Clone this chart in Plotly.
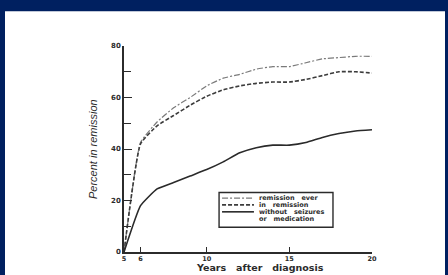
import plotly.graph_objects as go

years = [5, 6, 7, 8, 9, 10, 11, 12, 13, 14, 15, 16, 17, 18, 19, 20]
remission_ever = [0, 42.5, 50.5, 56, 60, 64.5, 67.5, 69, 71, 72, 72, 73.5, 75, 75.5, 76, 76]
in_remission = [0, 42, 49, 53, 57, 60.5, 63, 64.5, 65.5, 66, 66, 67, 68.5, 70, 70, 69.5]
without_seizures = [0, 18, 24.5, 27, 29.5, 32, 35, 38.5, 40.5, 41.5, 41.5, 42.5, 44.5, 46, 47, 47.5]

x_ticks = [5, 6, 10, 15, 20]
y_ticks = [0, 20, 40, 60, 80]
y_minor = [10, 30, 50, 70]

legend_labels = ["remission   ever", "in   remission", "without   seizures", "or   medication"]

NAVY = "#002060"
AX = "#2b2b2b"

fig = go.Figure()
fig.add_trace(go.Scatter(x=years, y=remission_ever, mode="lines", line=dict(color="#7a7a7a", width=1.2, dash="6px,2px,2px,2px", shape="spline", smoothing=0.4), showlegend=False, hoverinfo="skip"))
fig.add_trace(go.Scatter(x=years, y=in_remission, mode="lines", line=dict(color="#3c3c3c", width=1.6, dash="4px,2px", shape="spline", smoothing=0.4), showlegend=False, hoverinfo="skip"))
fig.add_trace(go.Scatter(x=years, y=without_seizures, mode="lines", line=dict(color="#2a2a2a", width=1.6, shape="spline", smoothing=0.4), showlegend=False, hoverinfo="skip"))

shapes = []
# white page inside navy frame
shapes.append(dict(type="rect", xref="paper", yref="paper", x0=(5 - 124) / 248, x1=(445 - 124) / 248,
                   y0=-0.3, y1=(254 - 11) / 208, fillcolor="white", line=dict(width=0), layer="below"))
# legend box (data coordinates)
shapes.append(dict(type="rect", xref="x", yref="y", x0=10.75, x1=17.64, y0=9.6, y1=23.1,
                   line=dict(color=AX, width=1.4), fillcolor="rgba(0,0,0,0)"))
sample_styles = [("#7a7a7a", "6px,2px,2px,2px", 1.2), ("#3c3c3c", "4px,2px", 1.6), ("#2a2a2a", "solid", 1.6)]
rows_y = [20.9, 18.3, 15.6, 12.9]
for (c, d, w), yy in zip(sample_styles, rows_y[:3]):
    shapes.append(dict(type="line", xref="x", yref="y", x0=10.93, x1=12.86, y0=yy, y1=yy,
                       line=dict(color=c, width=w, dash=d)))

annotations = []
for lab, yy in zip(legend_labels, rows_y):
    annotations.append(dict(x=13.05, y=yy, xref="x", yref="y", text=lab, showarrow=False,
                            xanchor="left", yanchor="middle",
                            font=dict(family="DejaVu Sans", size=6.5, color=AX, weight="bold")))
annotations.append(dict(x=(93 - 124) / 248, y=0.5, xref="paper", yref="paper", text="Percent in remission",
                        textangle=-90, showarrow=False, xanchor="center", yanchor="middle",
                        font=dict(family="Liberation Sans", size=11, color=AX, style="italic")))
annotations.append(dict(x=(260 - 124) / 248, y=(254 - 270) / 208, xref="paper", yref="paper",
                        text="Years   after   diagnosis", showarrow=False, xanchor="center", yanchor="middle",
                        borderpad=0,
                        font=dict(family="DejaVu Sans", size=9.5, color=AX, weight="bold")))

fig.update_layout(
    width=448, height=275,
    margin=dict(l=124, r=76, t=46, b=21),
    paper_bgcolor=NAVY, plot_bgcolor="white",
    shapes=shapes, annotations=annotations,
    showlegend=False, hovermode=False,
    xaxis=dict(range=[5, 20], showgrid=False, zeroline=False, showline=True, linecolor=AX, linewidth=1.5,
               ticks="inside", ticklen=5, tickwidth=1.2, tickcolor=AX, tickvals=x_ticks,
               ticklabelstandoff=-1,
               tickfont=dict(family="DejaVu Sans", size=6.5, color=AX, weight="bold")),
    yaxis=dict(range=[0, 80], showgrid=False, zeroline=False, showline=True, linecolor=AX, linewidth=1.5,
               ticks="inside", ticklen=8, tickwidth=1.2, tickcolor=AX, tickvals=y_ticks,
               minor=dict(tickvals=y_minor, ticks="inside", ticklen=7, tickwidth=1.2, tickcolor=AX),
               tickfont=dict(family="DejaVu Sans", size=7, color=AX, weight="bold")),
)

fig.write_html("out.html", config={"displayModeBar": False},
               post_script="document.body.style.margin='0px';document.body.style.overflow='hidden';")
